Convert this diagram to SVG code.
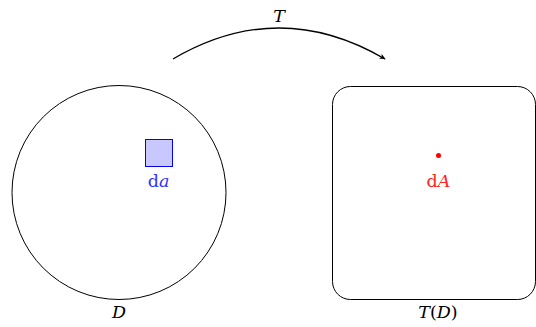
<svg xmlns="http://www.w3.org/2000/svg" width="536" height="327" viewBox="0 0 536 327">
<style>
.lbl{font-family:"DejaVu Serif","Liberation Serif",serif;font-size:17.5px;text-anchor:middle}
.it{font-style:italic}
.sh{fill:none;stroke:#000;stroke-width:1}
</style>
<defs>
<marker id="arr" viewBox="0 0 10 10" refX="8" refY="5" markerWidth="7" markerHeight="7" orient="auto" markerUnits="userSpaceOnUse">
<path d="M0,1 L9,5 L0,9 L2.5,5 Z" fill="#000"/>
</marker>
</defs>
<rect width="536" height="327" fill="#fff"/>
<g id="domain">
<circle class="sh" cx="119" cy="192.5" r="107"/>
<text class="lbl it" x="119" y="318">D</text>
</g>
<g id="da">
<rect x="145.5" y="139.5" width="27" height="27" fill="#c8c8ff" stroke="#0000ff" stroke-width="1"/>
<text class="lbl" x="158.5" y="187" fill="#3333ff">d<tspan class="it">a</tspan></text>
</g>
<g id="image">
<rect class="sh" x="332.5" y="86.5" width="203" height="213" rx="18"/>
<text class="lbl" x="438" y="318"><tspan class="it">T</tspan>(<tspan class="it">D</tspan>)</text>
</g>
<g id="dA">
<circle cx="438.5" cy="155.5" r="2.5" fill="#ff0000"/>
<text class="lbl" x="438.5" y="187" fill="#ff2222">d<tspan class="it">A</tspan></text>
</g>
<g id="connectors">
<path d="M173,59 Q279,-3 385,59" fill="none" stroke="#000" stroke-width="1.3" marker-end="url(#arr)"/>
<text class="lbl it" x="279" y="22">T</text>
</g>
</svg>
